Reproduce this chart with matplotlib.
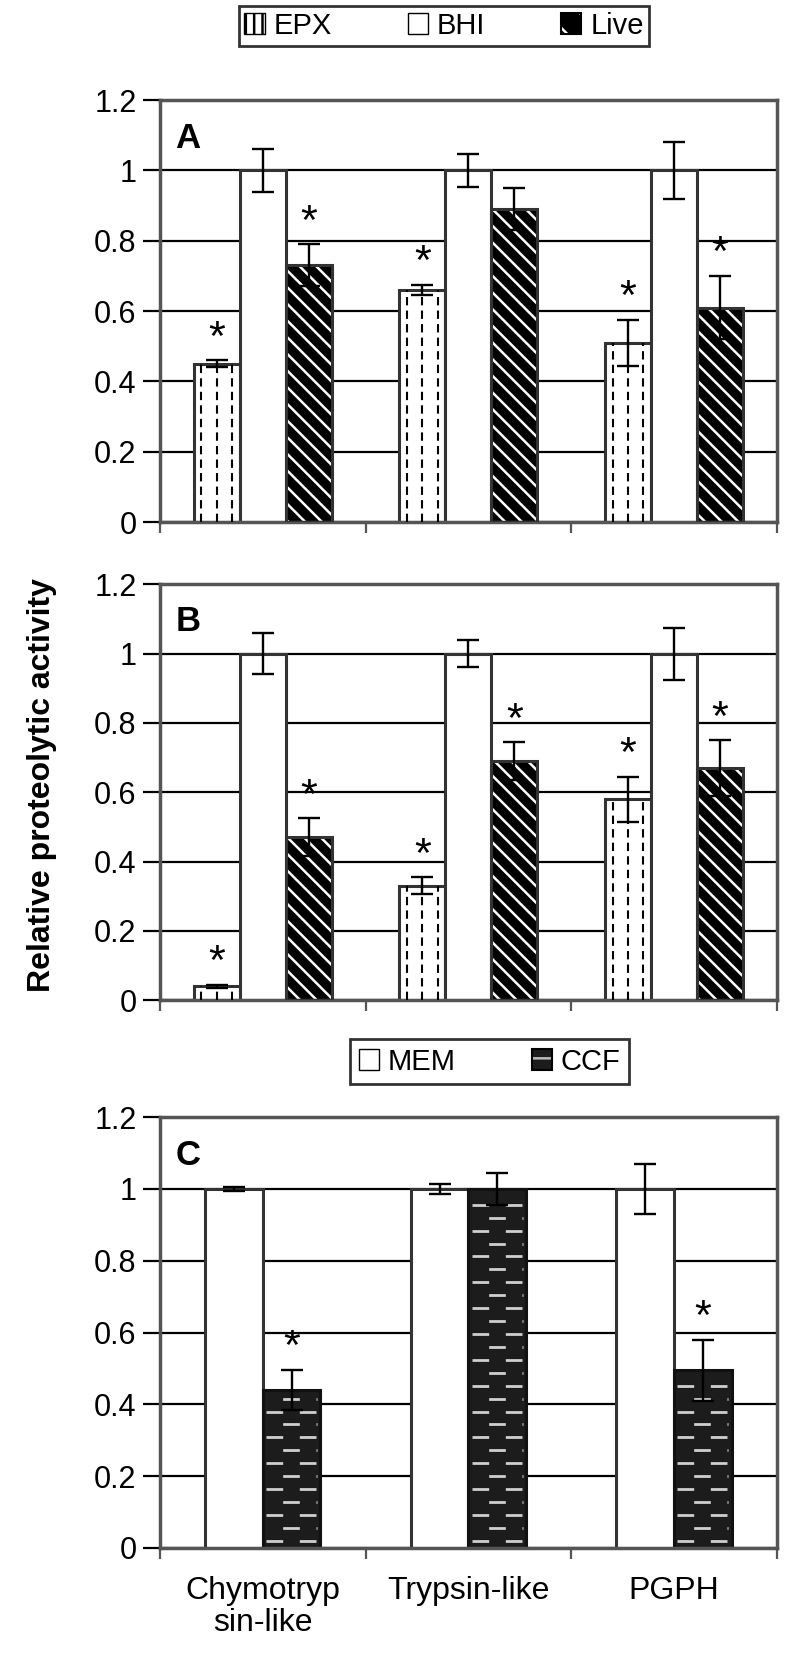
import matplotlib
matplotlib.use('Agg')
import matplotlib.pyplot as plt
from matplotlib.patches import Patch
from matplotlib.legend_handler import HandlerTuple
import numpy as np

plt.rcParams['font.family'] = ['Liberation Sans', 'DejaVu Sans']
plt.rcParams['hatch.linewidth'] = 1.8

categories = ['Chymotryp\nsin-like', 'Trypsin-like', 'PGPH']

# panel A
a_epx = [0.45, 0.66, 0.51]
a_epx_err = [0.01, 0.015, 0.065]
a_bhi = [1.0, 1.0, 1.0]
a_bhi_err = [0.06, 0.047, 0.08]
a_live = [0.73, 0.89, 0.61]
a_live_err = [0.06, 0.06, 0.09]
a_epx_star = [True, True, True]
a_live_star = [True, False, True]

# panel B
b_epx = [0.04, 0.33, 0.58]
b_epx_err = [0.005, 0.025, 0.065]
b_bhi = [1.0, 1.0, 1.0]
b_bhi_err = [0.06, 0.04, 0.075]
b_live = [0.47, 0.69, 0.67]
b_live_err = [0.055, 0.055, 0.08]
b_epx_star = [True, True, True]
b_live_star = [True, True, True]

# panel C
c_mem = [1.0, 1.0, 1.0]
c_mem_err = [0.005, 0.015, 0.07]
c_ccf = [0.44, 1.0, 0.495]
c_ccf_err = [0.055, 0.045, 0.085]
c_ccf_star = [True, False, True]

x = np.arange(len(categories))
EDGE = '#333333'
SPINE = '#555555'


def style_axes(ax, show_labels=False):
    ax.set_xlim(-0.5, 2.5)
    ax.set_ylim(0, 1.2)
    ax.set_yticks(np.arange(0, 1.21, 0.2))
    ax.set_yticklabels(['0', '0.2', '0.4', '0.6', '0.8', '1', '1.2'])
    ax.yaxis.grid(True, color='black', lw=1.6)
    ax.set_axisbelow(True)
    for s in ax.spines.values():
        s.set_color(SPINE)
        s.set_linewidth(2.5)
    ax.tick_params(axis='y', direction='out', length=12, width=1.6,
                   labelsize=22, pad=5, colors='black')
    ax.set_xticks(x)
    ax.set_xticks([-0.5, 0.5, 1.5, 2.5], minor=True)
    ax.tick_params(axis='x', which='major', length=0, labelsize=23, pad=20)
    ax.tick_params(axis='x', which='minor', direction='out', length=8,
                   width=1.6, color=SPINE)
    if show_labels:
        ax.set_xticklabels(categories, linespacing=1.1)
    else:
        ax.set_xticklabels([])


def dashed_columns(ax, bars):
    # vertical dashed lines inside the EPX bars
    for b in bars:
        x0, w, h = b.get_x(), b.get_width(), b.get_height()
        for k in range(3):
            xx = x0 + w * (k + 0.5) / 3
            ax.plot([xx, xx], [0, h], color='black', lw=1.5,
                    linestyle=(0, (4, 2.5)), zorder=3)


def dashed_rows(ax, bars):
    # light dashes inside the CCF bars
    for b in bars:
        x0, w, h = b.get_x(), b.get_width(), b.get_height()
        for i, yy in enumerate(np.arange(0.02, h - 0.01, 0.036)):
            ax.plot([x0 + w * 0.06, x0 + w * 0.94], [yy, yy], color='#cfcfcf',
                    lw=2.0, linestyle=(i % 2 * 6, (6, 6)), zorder=3)


def stars(ax, xs, vals, errs, flags):
    for xi, v, e, f in zip(xs, vals, errs, flags):
        if f:
            ax.text(xi, v + e + 0.03, '*', ha='center', va='baseline',
                    fontsize=31, zorder=5)


def err(ax, xs, vals, errs):
    ax.errorbar(xs, vals, yerr=errs, fmt='none', ecolor='black',
                elinewidth=1.7, capsize=8, capthick=1.7, zorder=4)


def three_panel(ax, epx, epx_err, bhi, bhi_err, live, live_err,
                epx_star, live_star, letter):
    w = 0.224
    xe, xb, xl = x - w, x, x + w
    bars = ax.bar(xe, epx, w, color='white', edgecolor=EDGE, lw=2.2, zorder=2)
    dashed_columns(ax, bars)
    ax.bar(xb, bhi, w, color='white', edgecolor=EDGE, lw=2.2, zorder=2)
    ax.bar(xl, live, w, color='black', edgecolor='white', hatch='\\\\',
           lw=0, zorder=2)
    ax.bar(xl, live, w, fill=False, edgecolor=EDGE, lw=2.2, zorder=3)
    err(ax, xe, epx, epx_err)
    err(ax, xb, bhi, bhi_err)
    err(ax, xl, live, live_err)
    stars(ax, xe, epx, epx_err, epx_star)
    stars(ax, xl, live, live_err, live_star)
    ax.text(0.025, 0.91, letter, transform=ax.transAxes, fontsize=25,
            fontweight='bold', va='center', ha='left')


fig = plt.figure(figsize=(8, 16.6), dpi=100)
axA = fig.add_axes([0.2, 0.6855, 0.771, 0.2542])
axB = fig.add_axes([0.2, 0.3975, 0.771, 0.2505])
axC = fig.add_axes([0.2, 0.0675, 0.771, 0.2595])

three_panel(axA, a_epx, a_epx_err, a_bhi, a_bhi_err, a_live, a_live_err,
            a_epx_star, a_live_star, 'A')
three_panel(axB, b_epx, b_epx_err, b_bhi, b_bhi_err, b_live, b_live_err,
            b_epx_star, b_live_star, 'B')

# panel C
wc = 0.28
xm, xc = x - wc / 2, x + wc / 2
axC.bar(xm, c_mem, wc, color='white', edgecolor=EDGE, lw=2.2, zorder=2)
cbars = axC.bar(xc, c_ccf, wc, color='#1c1c1c', edgecolor='#111111', lw=2.2,
                zorder=2)
dashed_rows(axC, cbars)
err(axC, xm, c_mem, c_mem_err)
err(axC, xc, c_ccf, c_ccf_err)
stars(axC, xc, c_ccf, c_ccf_err, c_ccf_star)
axC.text(0.025, 0.91, 'C', transform=axC.transAxes, fontsize=25,
         fontweight='bold', va='center', ha='left')

style_axes(axA)
style_axes(axB)
style_axes(axC, show_labels=True)

fig.text(0.053, 0.527, 'Relative proteolytic activity', rotation=90,
         fontsize=23, fontweight='bold', ha='center', va='center')

outline = dict(fill=False, edgecolor='black', lw=1.5)
overlay = {tuple: HandlerTuple(ndivide=1, pad=0)}
h1 = [Patch(facecolor='white', edgecolor='black', hatch='||'),
      Patch(facecolor='white', edgecolor='black'),
      (Patch(facecolor='black', edgecolor='white', hatch='\\', lw=0),
       Patch(**outline))]
leg1 = fig.legend(handles=h1, labels=['EPX', 'BHI', 'Live'], loc='center',
                  bbox_to_anchor=(0.555, 0.9845), handler_map=overlay,
                  ncol=3, fontsize=21, frameon=True, fancybox=False,
                  handlelength=0.7, handleheight=0.7, handletextpad=0.3,
                  columnspacing=2.6, borderpad=0.2)
leg1.get_frame().set_edgecolor('black')
leg1.get_frame().set_linewidth(2)

h2 = [Patch(facecolor='white', edgecolor='black'),
      (Patch(facecolor='#1c1c1c', edgecolor='#bbbbbb', hatch='-', lw=0),
       Patch(**outline))]
leg2 = fig.legend(handles=h2, labels=['MEM', 'CCF'], loc='center',
                  bbox_to_anchor=(0.612, 0.3605), handler_map=overlay,
                  ncol=2, fontsize=21, frameon=True, fancybox=False,
                  handlelength=0.7, handleheight=0.7, handletextpad=0.3,
                  columnspacing=2.6, borderpad=0.3)
leg2.get_frame().set_edgecolor('black')
leg2.get_frame().set_linewidth(2)

fig.savefig('out.png', dpi=100)
